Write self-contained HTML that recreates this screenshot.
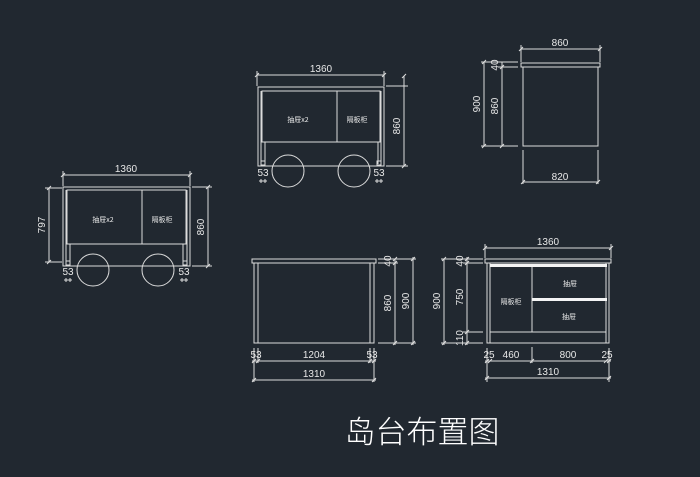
<!DOCTYPE html>
<html><head><meta charset="utf-8"><style>
html,body{margin:0;padding:0;background:#212830;}
svg{display:block}
text{font-family:"Liberation Sans","Noto Sans CJK SC",sans-serif;fill:#e8e8e8;}
.s{font-size:10px}
.c{font-size:7px;font-family:"Noto Sans CJK SC",sans-serif}
</style></head><body>
<svg width="700" height="477" viewBox="0 0 700 477" xmlns="http://www.w3.org/2000/svg">
<rect width="700" height="477" fill="#212830"/>
<g stroke="#dcdcdc" stroke-width="1" fill="none">
<!-- Top middle cart -->
<line x1="257" y1="75" x2="384" y2="75"/>
<line x1="257" y1="71" x2="257" y2="86"/><line x1="384" y1="71" x2="384" y2="86"/>
<rect x="258" y="87" width="126" height="79"/>
<rect x="262" y="91" width="118" height="51"/>
<line x1="337" y1="91" x2="337" y2="142"/>
<line x1="265" y1="142" x2="265" y2="164"/><line x1="378" y1="142" x2="378" y2="164"/>
<line x1="261" y1="91" x2="261" y2="166"/><line x1="381" y1="91" x2="381" y2="166"/>
<rect x="261" y="161" width="4" height="4"/><rect x="377" y="161" width="4" height="4"/>
<circle cx="288" cy="171" r="16"/><circle cx="354" cy="171" r="16"/>
<line x1="404" y1="76" x2="404" y2="166"/>
<line x1="386" y1="86" x2="408" y2="86"/><line x1="386" y1="166" x2="408" y2="166"/>
<!-- Left cart -->
<line x1="63" y1="175" x2="190" y2="175"/>
<line x1="63" y1="171" x2="63" y2="186"/><line x1="190" y1="171" x2="190" y2="186"/>
<rect x="63" y="187" width="127" height="79"/>
<rect x="67" y="190" width="119" height="54"/>
<line x1="142" y1="190" x2="142" y2="244"/>
<line x1="70" y1="244" x2="70" y2="264"/><line x1="183" y1="244" x2="183" y2="264"/>
<line x1="66" y1="190" x2="66" y2="266"/><line x1="187" y1="190" x2="187" y2="266"/>
<rect x="66" y="261" width="4" height="4"/><rect x="183" y="261" width="4" height="4"/>
<circle cx="93" cy="270" r="16"/><circle cx="158" cy="270" r="16"/>
<line x1="49" y1="188" x2="49" y2="262"/>
<line x1="45" y1="188" x2="62" y2="188"/><line x1="45" y1="262" x2="62" y2="262"/>
<line x1="208" y1="187" x2="208" y2="266"/>
<line x1="192" y1="187" x2="212" y2="187"/><line x1="192" y1="266" x2="212" y2="266"/>
<!-- Top right side view -->
<line x1="521" y1="49" x2="600" y2="49"/>
<line x1="521" y1="45" x2="521" y2="62"/><line x1="600" y1="45" x2="600" y2="62"/>
<rect x="521" y="63" width="79" height="4"/>
<rect x="523" y="67" width="75" height="79"/>
<line x1="523" y1="150" x2="523" y2="184"/><line x1="598" y1="150" x2="598" y2="184"/>
<line x1="523" y1="182" x2="598" y2="182"/>
<line x1="484" y1="62" x2="484" y2="146"/><line x1="502" y1="62" x2="502" y2="146"/>
<line x1="481" y1="62" x2="518" y2="62"/><line x1="498" y1="67" x2="518" y2="67"/>
<line x1="481" y1="146" x2="518" y2="146"/>
<!-- Bottom middle -->
<rect x="252" y="259" width="124" height="4"/>
<rect x="254" y="263" width="120" height="80"/>
<line x1="258" y1="263" x2="258" y2="343"/><line x1="370" y1="263" x2="370" y2="343"/>
<line x1="378" y1="259" x2="416" y2="259"/><line x1="378" y1="263" x2="398" y2="263"/>
<line x1="378" y1="343" x2="416" y2="343"/>
<line x1="395" y1="259" x2="395" y2="345"/><line x1="413" y1="257" x2="413" y2="345"/>
<line x1="254" y1="348" x2="254" y2="382"/><line x1="374" y1="348" x2="374" y2="382"/>
<line x1="258" y1="348" x2="258" y2="363"/><line x1="370" y1="348" x2="370" y2="363"/>
<line x1="252" y1="361" x2="376" y2="361"/>
<line x1="252" y1="380" x2="376" y2="380"/>
<!-- Bottom right -->
<line x1="485" y1="248" x2="611" y2="248"/>
<line x1="485" y1="244" x2="485" y2="258"/><line x1="611" y1="244" x2="611" y2="258"/>
<rect x="485" y="259" width="126" height="4"/>
<rect x="487" y="263" width="122" height="80"/>
<line x1="490" y1="263" x2="490" y2="343"/><line x1="606" y1="263" x2="606" y2="343"/>
<line x1="532" y1="266" x2="532" y2="332"/>
<line x1="490" y1="332" x2="606" y2="332"/>
<line x1="444" y1="259" x2="444" y2="345"/><line x1="467" y1="257" x2="467" y2="345"/>
<line x1="441" y1="259" x2="483" y2="259"/><line x1="463" y1="263" x2="483" y2="263"/>
<line x1="463" y1="332" x2="483" y2="332"/><line x1="441" y1="343" x2="483" y2="343"/>
<line x1="487" y1="348" x2="487" y2="382"/><line x1="609" y1="348" x2="609" y2="382"/>
<line x1="532" y1="347" x2="532" y2="363"/>
<line x1="485" y1="361" x2="611" y2="361"/>
<line x1="485" y1="378" x2="611" y2="378"/>
</g>
<g fill="#f4f4f4">
<rect x="490" y="264" width="117" height="3"/>
<rect x="532" y="298" width="75" height="3"/>
</g>
<!-- ticks -->
<g stroke="#dcdcdc" stroke-width="1">
<path d="M255 77l4-4M382 77l4-4M61 177l4-4M188 177l4-4M402 78l4-4M402 168l4-4M47 190l4-4M47 264l4-4M206 189l4-4M206 268l4-4M519 51l4-4M598 51l4-4M521 184l4-4M596 184l4-4M482 64l4-4M482 148l4-4M500 69l4-4M500 148l4-4M393 261l4-4M393 265l4-4M393 345l4-4M411 261l4-4M411 345l4-4M252 363l4-4M256 363l4-4M368 363l4-4M372 363l4-4M252 382l4-4M372 382l4-4M483 250l4-4M609 250l4-4M442 261l4-4M442 345l4-4M465 261l4-4M465 265l4-4M465 334l4-4M465 345l4-4M485 363l4-4M488 363l4-4M530 363l4-4M604 363l4-4M607 363l4-4M485 380l4-4M607 380l4-4"/>
<path d="M259 181h8M261 179v4M265 179v4M375 181h8M377 179v4M381 179v4M64 280h8M66 278v4M70 278v4M180 280h8M182 278v4M186 278v4"/>
</g>
<!-- texts -->
<text class="s" x="321" y="72" text-anchor="middle">1360</text>
<text class="c" x="298" y="122" text-anchor="middle">抽屉x2</text>
<text class="c" x="357" y="122" text-anchor="middle">隔板柜</text>
<text class="s" x="400" y="126" transform="rotate(-90 400 126)" text-anchor="middle">860</text>
<text class="s" x="263" y="176" text-anchor="middle">53</text>
<text class="s" x="379" y="176" text-anchor="middle">53</text>

<text class="s" x="126" y="172" text-anchor="middle">1360</text>
<text class="c" x="103" y="222" text-anchor="middle">抽屉x2</text>
<text class="c" x="162" y="222" text-anchor="middle">隔板柜</text>
<text class="s" x="45" y="225" transform="rotate(-90 45 225)" text-anchor="middle">797</text>
<text class="s" x="204" y="227" transform="rotate(-90 204 227)" text-anchor="middle">860</text>
<text class="s" x="68" y="275" text-anchor="middle">53</text>
<text class="s" x="184" y="275" text-anchor="middle">53</text>

<text class="s" x="560" y="46" text-anchor="middle">860</text>
<text class="s" x="560" y="180" text-anchor="middle">820</text>
<text class="s" x="480" y="104" transform="rotate(-90 480 104)" text-anchor="middle">900</text>
<text class="s" x="498" y="106" transform="rotate(-90 498 106)" text-anchor="middle">860</text>
<text class="s" x="498" y="65" transform="rotate(-90 498 65)" text-anchor="middle">40</text>

<text class="s" x="391" y="261" transform="rotate(-90 391 261)" text-anchor="middle">40</text>
<text class="s" x="391" y="303" transform="rotate(-90 391 303)" text-anchor="middle">860</text>
<text class="s" x="409" y="301" transform="rotate(-90 409 301)" text-anchor="middle">900</text>
<text class="s" x="256" y="358" text-anchor="middle">53</text>
<text class="s" x="372" y="358" text-anchor="middle">53</text>
<text class="s" x="314" y="358" text-anchor="middle">1204</text>
<text class="s" x="314" y="377" text-anchor="middle">1310</text>

<text class="s" x="548" y="245" text-anchor="middle">1360</text>
<text class="c" x="511" y="304" text-anchor="middle">隔板柜</text>
<text class="c" x="570" y="286" text-anchor="middle">抽屉</text>
<text class="c" x="569" y="319" text-anchor="middle">抽屉</text>
<text class="s" x="440" y="301" transform="rotate(-90 440 301)" text-anchor="middle">900</text>
<text class="s" x="463" y="261" transform="rotate(-90 463 261)" text-anchor="middle">40</text>
<text class="s" x="463" y="297" transform="rotate(-90 463 297)" text-anchor="middle">750</text>
<text class="s" x="463" y="338" transform="rotate(-90 463 338)" text-anchor="middle">110</text>
<text class="s" x="489" y="358" text-anchor="middle">25</text>
<text class="s" x="511" y="358" text-anchor="middle">460</text>
<text class="s" x="568" y="358" text-anchor="middle">800</text>
<text class="s" x="607" y="358" text-anchor="middle">25</text>
<text class="s" x="548" y="375" text-anchor="middle">1310</text>

<text x="422" y="443" text-anchor="middle" style="font-family:'Noto Sans CJK SC',sans-serif;font-size:31px;font-weight:300;fill:#fff">岛台布置图</text>
</svg>
</body></html>
